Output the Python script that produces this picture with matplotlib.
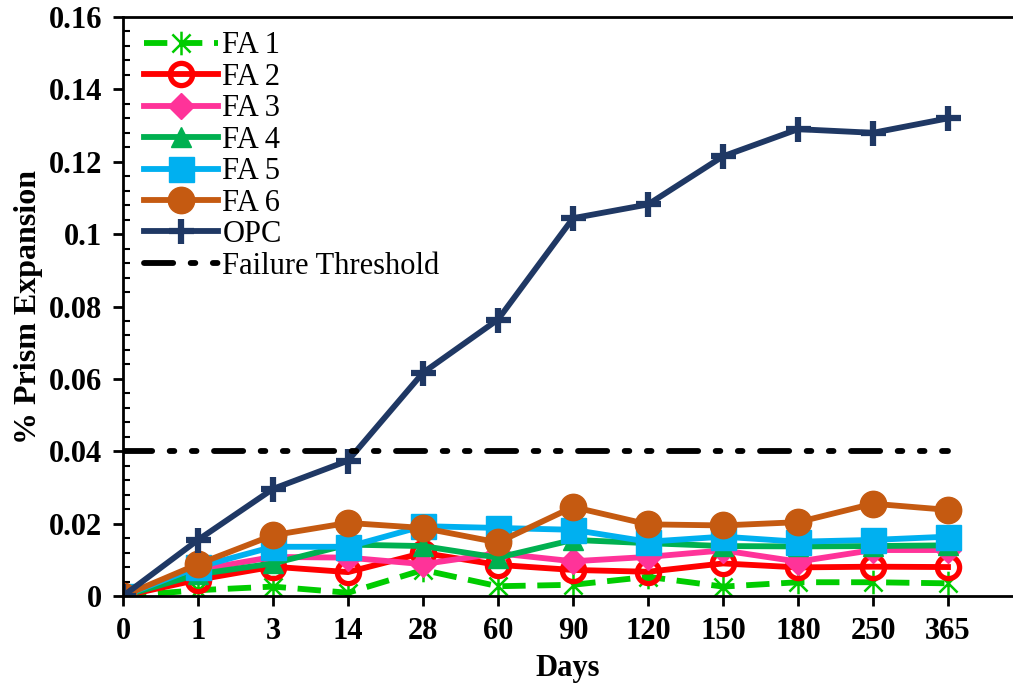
import matplotlib.pyplot as plt
import numpy as np
from matplotlib.path import Path
from matplotlib.ticker import MultipleLocator, FuncFormatter

plt.rcParams["font.family"] = ["Liberation Serif", "DejaVu Serif"]

days = ["0", "1", "3", "14", "28", "60", "90", "120", "150", "180", "250", "365"]

fa1 = [0, 0.0016, 0.0026, 0.0009, 0.0072, 0.0027, 0.0031, 0.0053, 0.0026, 0.0038, 0.0038, 0.0035]
fa2 = [0, 0.0045, 0.0081, 0.0066, 0.0119, 0.0086, 0.0072, 0.0067, 0.0090, 0.0079, 0.0081, 0.0080]
fa3 = [0, 0.0072, 0.0108, 0.0106, 0.0088, 0.0118, 0.0096, 0.0108, 0.0126, 0.0095, 0.0127, 0.0127]
fa4 = [0, 0.0060, 0.0090, 0.0142, 0.0138, 0.0106, 0.0155, 0.0146, 0.0138, 0.0137, 0.0138, 0.0140]
fa5 = [0, 0.0080, 0.0136, 0.0136, 0.0193, 0.0188, 0.0183, 0.0150, 0.0164, 0.0150, 0.0155, 0.0164]
fa6 = [0, 0.0088, 0.0168, 0.0202, 0.0188, 0.0148, 0.0246, 0.0198, 0.0195, 0.0204, 0.0255, 0.0238]
opc = [0, 0.0155, 0.0296, 0.0374, 0.0617, 0.0764, 0.1044, 0.1082, 0.1215, 0.1290, 0.1280, 0.1320]
threshold = [0.04] * len(days)

# asterisk-style marker: an X crossed by a vertical stroke
star = Path([(-1, -1), (1, 1), (-1, 1), (1, -1), (0, -1.3), (0, 1.3)],
            [Path.MOVETO, Path.LINETO, Path.MOVETO, Path.LINETO, Path.MOVETO, Path.LINETO])

fig = plt.figure(figsize=(10.13, 6.91), dpi=100)
ax = fig.add_axes([123 / 1013, 95 / 691, 1 - 123 / 1013, (596 - 17) / 691])
x = np.arange(len(days))
lw = 4.2

ax.plot(x, fa1, color="#00CC00", lw=lw, ls=(0, (4, 2)), marker=star, ms=17,
        mew=1.8, mec="#00CC00", label="FA 1")
ax.plot(x, fa2, color="#FF0000", lw=lw, marker="o", ms=16, mew=3.8,
        mfc="none", mec="#FF0000", label="FA 2")
ax.plot(x, fa3, color="#FF3399", lw=lw, marker="D", ms=13, label="FA 3")
ax.plot(x, fa4, color="#00B050", lw=lw, marker="^", ms=14, label="FA 4")
ax.plot(x, fa5, color="#00B0F0", lw=lw, marker="s", ms=18, label="FA 5")
ax.plot(x, fa6, color="#C55A11", lw=lw, marker="o", ms=19, label="FA 6")
ax.plot(x, opc, color="#1F3864", lw=lw, marker="+", ms=18, mew=4.5, label="OPC")
ax.plot(x, threshold, color="black", lw=lw, ls=(0, (5, 3, 0.8, 3, 0.8, 3)),
        dash_capstyle="round", label="Failure Threshold")

ax.set_xlim(0, (1013 - 123) / 75)
ax.set_ylim(0, 0.16)
ax.set_xticks(x)
ax.set_xticklabels(days)
ax.yaxis.set_major_locator(MultipleLocator(0.02))
ax.yaxis.set_minor_locator(MultipleLocator(0.004))
ax.yaxis.set_major_formatter(FuncFormatter(lambda v, p: "0" if abs(v) < 1e-9 else f"{v:.2f}".rstrip("0")))

for s in ["left", "bottom", "top"]:
    ax.spines[s].set_linewidth(2)
ax.spines["right"].set_visible(False)

ax.tick_params(axis="both", which="major", direction="out", length=7, width=2,
               labelsize=22, pad=8)
ax.tick_params(axis="y", which="minor", direction="in", length=5, width=1.5)
for lab in ax.get_xticklabels() + ax.get_yticklabels():
    lab.set_fontweight("bold")

ax.set_xlabel("Days", fontsize=22, fontweight="bold", labelpad=6)
ax.set_ylabel("% Prism Expansion", fontsize=23, fontweight="bold", labelpad=4)

ax.legend(loc="upper left", bbox_to_anchor=(0.0, 1.012), frameon=False, fontsize=22,
          handlelength=2.4, handletextpad=0.15, labelspacing=0.08, borderaxespad=0.3,
          markerscale=1.0)

fig.savefig("out.png", dpi=100)
